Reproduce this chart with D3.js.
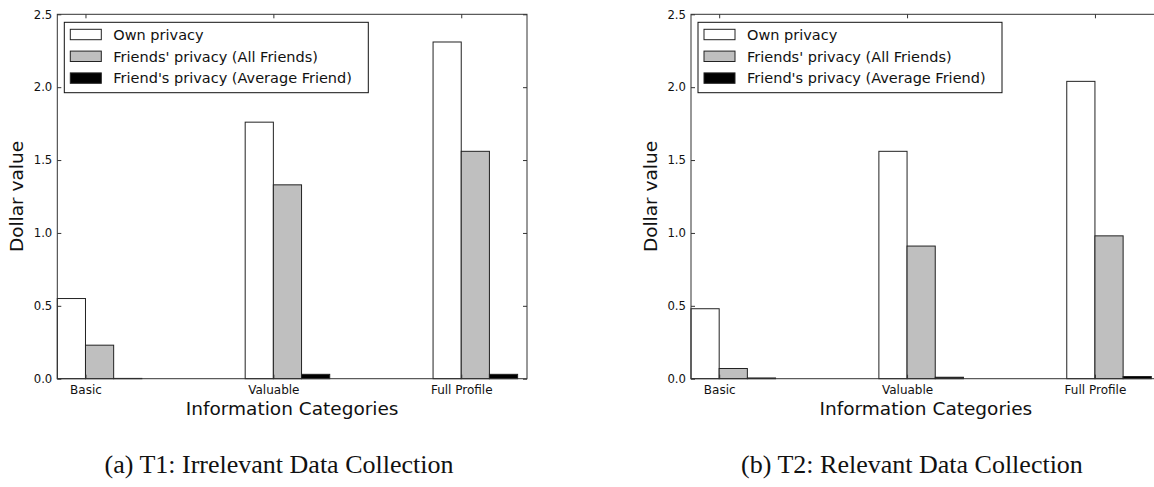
<!DOCTYPE html>
<html>
<head>
<meta charset="utf-8">
<script src="https://cdn.jsdelivr.net/npm/d3@7"></script>
<style>
  html, body { margin: 0; padding: 0; background: #fff; }
  svg { display: block; }
  text { font-family: "DejaVu Sans", sans-serif; fill: #111; }
  .caption { font-family: "Liberation Serif", "Times New Roman", serif; }
</style>
</head>
<body>
<svg id="chart" width="1154" height="487"></svg>
<script>
// ---------------- data ----------------
const categories = ["Basic", "Valuable", "Full Profile"];
const seriesNames = ["Own privacy", "Friends' privacy (All Friends)", "Friend's privacy (Average Friend)"];
const seriesFills = ["#ffffff", "#bfbfbf", "#000000"];

const t1Own = [0.55, 1.76, 2.31];
const t1AllFriends = [0.23, 1.33, 1.56];
const t1AvgFriend = [0.002, 0.03, 0.03];

const t2Own = [0.48, 1.56, 2.04];
const t2AllFriends = [0.07, 0.91, 0.98];
const t2AvgFriend = [0.005, 0.01, 0.015];

const yTickValues = [0, 0.5, 1.0, 1.5, 2.0, 2.5];
const yTickLabels = ["0.0", "0.5", "1.0", "1.5", "2.0", "2.5"];

const captions = ["(a) T1: Irrelevant Data Collection", "(b) T2: Relevant Data Collection"];
const yLabel = "Dollar value";
const xLabel = "Information Categories";

// ---------------- layout ----------------
const svg = d3.select("#chart");
svg.append("rect").attr("width", 1154).attr("height", 487).attr("fill", "#fff");

const barW = 0.15;
const panels = [
  { left: 57.3, series: [t1Own, t1AllFriends, t1AvgFriend], caption: captions[0], capX: 279 },
  { left: 691.0, series: [t2Own, t2AllFriends, t2AvgFriend], caption: captions[1], capX: 912 }
];
const plotTop = 14.3, plotBottom = 378.7, plotW = 469.7;

panels.forEach(p => {
  const x = d3.scaleLinear().domain([0, 2.5]).range([p.left, p.left + plotW]);
  const y = d3.scaleLinear().domain([0, 2.5]).range([plotBottom, plotTop]);
  const g = svg.append("g");

  // bars
  p.series.forEach((vals, j) => {
    g.selectAll(null).data(vals).enter().append("rect")
      .attr("x", (d, i) => x(i + j * barW))
      .attr("y", d => y(d))
      .attr("width", x(barW) - x(0))
      .attr("height", d => y(0) - y(d))
      .attr("fill", seriesFills[j])
      .attr("stroke", "#222")
      .attr("stroke-width", 1);
  });

  const tickPos = categories.map((c, i) => i + barW);

  // axes (ticks inward on all sides)
  const axL = g.append("g").attr("transform", `translate(${p.left},0)`)
    .call(d3.axisLeft(y).tickValues(yTickValues).tickFormat((d, i) => yTickLabels[i])
      .tickSizeInner(-4).tickSizeOuter(0).tickPadding(5));
  axL.selectAll("text").style("font-size", "11.7px").attr("fill", "#222");

  g.append("g").attr("transform", `translate(${p.left + plotW},0)`)
    .call(d3.axisRight(y).tickValues(yTickValues).tickFormat("").tickSizeInner(-4).tickSizeOuter(0));

  g.append("g").attr("transform", `translate(0,${plotTop})`)
    .call(d3.axisTop(x).tickValues(tickPos).tickFormat("").tickSizeInner(-4).tickSizeOuter(0));

  const axB = g.append("g").attr("transform", `translate(0,${plotBottom})`)
    .call(d3.axisBottom(x).tickValues(tickPos).tickFormat((d, i) => categories[i])
      .tickSizeInner(-4).tickSizeOuter(0).tickPadding(7));
  axB.selectAll("text").style("font-size", "12px").attr("fill", "#222");

  g.selectAll(".domain").remove();
  g.selectAll(".tick line").attr("stroke", "#333");

  // frame
  g.append("rect").attr("x", p.left).attr("y", plotTop).attr("width", plotW).attr("height", plotBottom - plotTop)
    .attr("fill", "none").attr("stroke", "#333").attr("stroke-width", 1);

  // axis labels
  g.append("text").attr("transform", `translate(${p.left - 34},${(plotTop + plotBottom) / 2}) rotate(-90)`)
    .attr("text-anchor", "middle").style("font-size", "18.5px").text(yLabel);
  g.append("text").attr("x", (x.range()[0] + x.range()[1]) / 2).attr("y", 415)
    .attr("text-anchor", "middle").style("font-size", "18.5px").text(xLabel);

  // legend
  const lx = p.left + 7, ly = 22.3;
  const lg = g.append("g");
  lg.append("rect").attr("x", lx).attr("y", ly).attr("width", 304).attr("height", 70.4)
    .attr("fill", "#fff").attr("stroke", "#111").attr("stroke-width", 1);
  seriesNames.forEach((name, j) => {
    const ry = 29.3 + j * 21.8;
    lg.append("rect").attr("x", lx + 6).attr("y", ry).attr("width", 31).attr("height", 10.4)
      .attr("fill", seriesFills[j]).attr("stroke", "#222").attr("stroke-width", 1);
    lg.append("text").attr("x", lx + 49).attr("y", ry + 10.4).style("font-size", "14.5px").text(name);
  });

  // caption
  svg.append("text").attr("class", "caption").attr("x", p.capX).attr("y", 473)
    .attr("text-anchor", "middle").style("font-size", "26px").text(p.caption);
});
</script>
</body>
</html>
